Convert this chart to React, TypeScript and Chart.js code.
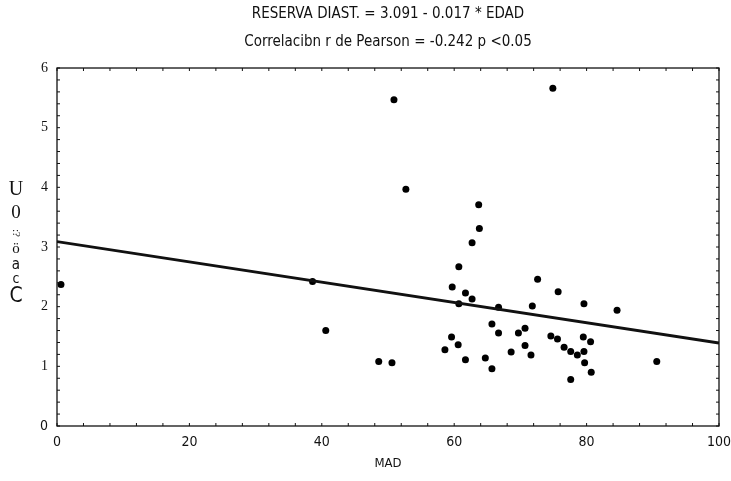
import React, { useEffect, useRef } from "react";
import { Chart, registerables } from "chart.js";

Chart.register(...registerables);

// ---- text ----
const titleLines = [
  "RESERVA DIAST. = 3.091 - 0.017 * EDAD",
  "Correlacibn r de Pearson = -0.242 p <0.05",
];
const xAxisTitle = "MAD";
const yAxisTitleChars = ["U", "0", ":?", "ö", "a", "c", "C"];

// ---- data ----
const madValues = [
  0.6, 38.6, 40.6, 48.6, 50.6, 50.9, 52.7, 63.7, 74.9, 84.6, 90.6,
  63.8, 62.7, 60.7, 59.7, 61.7, 62.7, 60.7, 72.6, 75.7, 79.6, 66.7,
  71.8, 65.7, 70.7, 66.7, 69.7, 74.6, 75.6, 79.5, 80.6, 59.6, 60.6,
  58.6, 70.7, 76.6, 77.6, 78.6, 79.6, 68.6, 71.6, 64.7, 61.7, 65.7,
  79.7, 80.7, 77.6,
];
const reservaValues = [
  2.37, 2.42, 1.6, 1.08, 1.06, 5.47, 3.97, 3.71, 5.66, 1.94, 1.08,
  3.31, 3.07, 2.67, 2.33, 2.23, 2.13, 2.05, 2.46, 2.25, 2.05, 1.99,
  2.01, 1.71, 1.64, 1.56, 1.56, 1.51, 1.46, 1.49, 1.41, 1.49, 1.36,
  1.28, 1.35, 1.32, 1.25, 1.19, 1.25, 1.24, 1.19, 1.14, 1.11, 0.96,
  1.06, 0.9, 0.78,
];
const fitX = [0, 100];
const fitY = [3.091, 1.391];
const xTickValues = [0, 20, 40, 60, 80, 100];
const yTickValues = [0, 1, 2, 3, 4, 5, 6];

const SANS = '"DejaVu Sans Condensed", "Liberation Sans Narrow", "DejaVu Sans", sans-serif';
const SERIF = '"Liberation Serif", "DejaVu Serif", serif';

const framePlugin = {
  id: "frameWithMinorTicks",
  afterDatasetsDraw(chart: any) {
    const { ctx, chartArea, scales } = chart;
    const { left, right, top, bottom } = chartArea;
    ctx.save();
    ctx.strokeStyle = "#111";
    ctx.lineWidth = 1.3;
    ctx.strokeRect(left, top, right - left, bottom - top);
    ctx.lineWidth = 1;
    const len = 3;
    ctx.beginPath();
    for (let v = 0; v <= 6.0001; v += 0.2) {
      const y = scales.y.getPixelForValue(v);
      ctx.moveTo(left, y);
      ctx.lineTo(left + len, y);
      ctx.moveTo(right, y);
      ctx.lineTo(right - len, y);
    }
    for (let v = 0; v <= 100.0001; v += 4) {
      const x = scales.x.getPixelForValue(v);
      ctx.moveTo(x, bottom);
      ctx.lineTo(x, bottom - len);
      ctx.moveTo(x, top);
      ctx.lineTo(x, top + len);
    }
    ctx.stroke();
    ctx.restore();
  },
};

const yTitlePlugin = {
  id: "stackedYTitle",
  afterDraw(chart: any) {
    const { ctx } = chart;
    const cx = 16;
    const specs = [
      { font: `20px ${SERIF}`, y: 190, rot: false },
      { font: `19px ${SERIF}`, y: 213, rot: false },
      { font: `11px ${SERIF}`, y: 233, rot: true },
      { font: `15px ${SERIF}`, y: 249, rot: false },
      { font: `15px ${SANS}`, y: 265, rot: false },
      { font: `14px ${SANS}`, y: 279, rot: false },
      { font: `21px ${SANS}`, y: 297, rot: false },
    ];
    ctx.save();
    ctx.fillStyle = "#111";
    ctx.textAlign = "center";
    ctx.textBaseline = "middle";
    yAxisTitleChars.forEach((ch, i) => {
      const s = specs[i];
      ctx.font = s.font;
      if (s.rot) {
        ctx.save();
        ctx.translate(cx, s.y);
        ctx.rotate(Math.PI / 2);
        ctx.fillText(ch, 0, 0);
        ctx.restore();
      } else {
        ctx.fillText(ch, cx, s.y);
      }
    });
    ctx.restore();
  },
};

export default function App() {
  const canvasRef = useRef<HTMLCanvasElement | null>(null);

  useEffect(() => {
    if (!canvasRef.current) return;
    const chart = new Chart(canvasRef.current, {
      type: "scatter",
      data: {
        datasets: [
          {
            type: "line",
            label: "Regresión",
            data: fitX.map((x, i) => ({ x, y: fitY[i] })),
            borderColor: "#111",
            borderWidth: 2.8,
            pointRadius: 0,
            fill: false,
          },
          {
            type: "scatter",
            label: "Pacientes",
            data: madValues.map((x, i) => ({ x, y: reservaValues[i] })),
            backgroundColor: "#000",
            borderColor: "#000",
            pointRadius: 3.5,
            borderWidth: 0,
          },
        ],
      },
      options: {
        animation: false,
        responsive: true,
        maintainAspectRatio: false,
        layout: { padding: { top: 0, left: 0, right: 12, bottom: 0 } },
        plugins: {
          legend: { display: false },
          tooltip: { enabled: false },
          title: {
            display: true,
            fullSize: false,
            text: titleLines,
            color: "#111",
            font: { family: SANS, size: 15, weight: "normal", lineHeight: 1.867 },
            padding: { top: 0, bottom: 12 },
          },
        },
        scales: {
          x: {
            type: "linear",
            min: 0,
            max: 100,
            afterFit: (s: any) => {
              s.height = 55;
              s.paddingLeft = 0;
              s.paddingRight = 0;
            },
            afterBuildTicks: (s: any) => {
              s.ticks = xTickValues.map((v) => ({ value: v }));
            },
            grid: { display: false, drawTicks: false },
            border: { display: false },
            ticks: {
              color: "#111",
              padding: 8,
              font: { family: SANS, size: 14 },
              maxRotation: 0,
            },
            title: {
              display: true,
              text: xAxisTitle,
              color: "#111",
              font: { family: SANS, size: 13 },
              padding: { top: 0, bottom: 10 },
            },
          },
          y: {
            type: "linear",
            min: 0,
            max: 6,
            afterFit: (s: any) => {
              s.width = 57;
            },
            afterBuildTicks: (s: any) => {
              s.ticks = yTickValues.map((v) => ({ value: v }));
            },
            grid: { display: false, drawTicks: false },
            border: { display: false },
            ticks: {
              color: "#111",
              padding: 9,
              font: (ctx: any) =>
                ctx.tick && ctx.tick.value === 0
                  ? { family: SANS, size: 14 }
                  : { family: SERIF, size: 14 },
            },
          },
        },
      },
      plugins: [framePlugin, yTitlePlugin],
    });
    return () => chart.destroy();
  }, []);

  return (
    <div style={{ position: "absolute", left: 0, top: 0, width: 731, height: 481, background: "#fff" }}>
      <canvas ref={canvasRef} />
    </div>
  );
}
